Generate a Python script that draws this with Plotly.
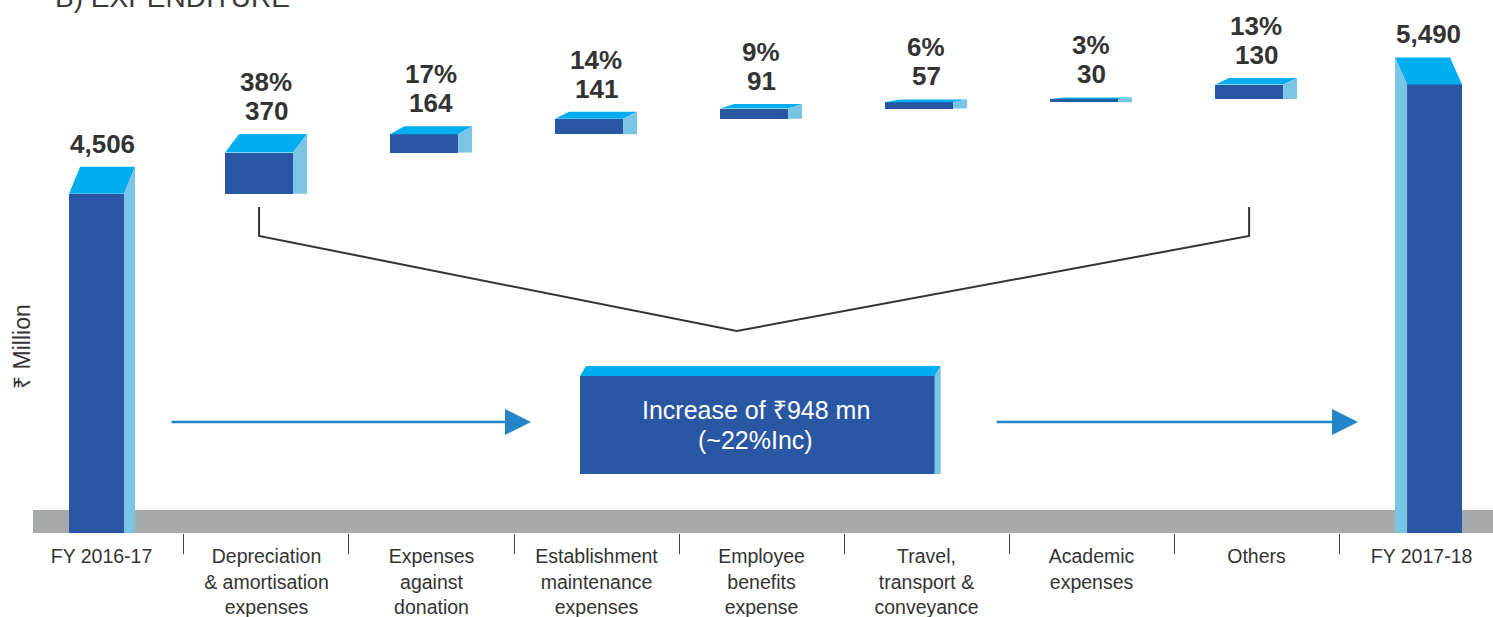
import plotly.graph_objects as go

# ---------------- data ----------------
categories = ["FY 2016-17",
              "Depreciation<br>& amortisation<br>expenses",
              "Expenses<br>against<br>donation",
              "Establishment<br>maintenance<br>expenses",
              "Employee<br>benefits<br>expense",
              "Travel,<br>transport &<br>conveyance",
              "Academic<br>expenses",
              "Others",
              "FY 2017-18"]
opening_value = 4506
closing_value = 5490
increments = [370, 164, 141, 91, 57, 30, 130]
shares_pct = [38, 17, 14, 9, 6, 3, 13]
increase_lines = ["Increase of \u20b9948 mn", "(~22%Inc)"]
y_title = "\u20b9 Million"
chart_title = "B) EXPENDITURE"

# ---------------- style ----------------
FRONT = "#2A57A3"
TOP = "#00AEEF"
SIDE = "#7AC4E5"
BAND = "#A7A9AC"
TXT = "#333333"
ARROW = "#2384C8"
FONT = "Liberation Sans, Arial, Noto Sans, sans-serif"

Y_MIN, Y_MAX = 1450, 6250
X_MIN, X_MAX = -0.415, 8.433
PLOT_H = 533

n = len(categories)
xs = list(range(n))

# cumulative bases
bases = [0]
heights = [opening_value]
run = opening_value
for v in increments:
    bases.append(run)
    heights.append(v)
    run += v
bases.append(0)
heights.append(closing_value)

# geometry per bar (style only)
BIG_W, INC_W = 0.333, 0.412
centers, widths, dxs, dys = [], [], [], []
for i in xs:
    if i == 0:
        centers.append(i - 0.03); widths.append(BIG_W); dxs.append(0.067); dys.append(243)
    elif i == n - 1:
        centers.append(i + 0.079); widths.append(BIG_W); dxs.append(-0.073); dys.append(243)
    else:
        centers.append(i - 0.045); widths.append(INC_W); dxs.append(0.085); dys.append(0.45 * heights[i])

offsets = [c - i - w / 2 for c, i, w in zip(centers, xs, widths)]

fig = go.Figure()
fig.add_trace(go.Bar(x=xs, y=heights, base=bases, width=widths, offset=offsets,
                     marker=dict(color=FRONT, line=dict(width=0)),
                     hoverinfo="skip", showlegend=False))

shapes = []
# grey floor band
shapes.append(dict(type="rect", xref="paper", yref="paper", x0=0, x1=1, y0=0, y1=23 / PLOT_H,
                   fillcolor=BAND, line=dict(width=0), layer="below"))

annotations = []
for i in xs:
    c, w, dx, dy = centers[i], widths[i], dxs[i], dys[i]
    x0, x1 = c - w / 2, c + w / 2
    t = bases[i] + heights[i]
    b = Y_MIN if i in (0, n - 1) else bases[i]
    # top face
    shapes.append(dict(type="path", xref="x", yref="y",
                       path=f"M {x0},{t} L {x0+dx},{t+dy} L {x1+dx},{t+dy} L {x1},{t} Z",
                       fillcolor=TOP, line=dict(width=0)))
    # side face
    if dx > 0:
        p = f"M {x1},{t} L {x1+dx},{t+dy} L {x1+dx},{b} L {x1},{b} Z"
    else:
        p = f"M {x0},{t} L {x0+dx},{t+dy} L {x0+dx},{b} L {x0},{b} Z"
    shapes.append(dict(type="path", xref="x", yref="y", path=p, fillcolor=SIDE, line=dict(width=0)))
    # labels
    lx = c + dx / 2
    annotations.append(dict(x=lx, y=t + dy, xref="x", yref="y", text=f"{heights[i]:,}",
                            showarrow=False, yanchor="bottom", yshift=6,
                            font=dict(family=FONT, size=26, color=TXT, weight="bold")))
    if 0 < i < n - 1:
        annotations.append(dict(x=lx, y=t + dy, xref="x", yref="y", text=f"{shares_pct[i-1]}%",
                                showarrow=False, yanchor="bottom", yshift=35,
                                font=dict(family=FONT, size=26, color=TXT, weight="bold")))


def py(p):
    return (PLOT_H - p) / PLOT_H


# increase box (pseudo-3D)
bx0, bx1 = 2.9, 5.05
by0, by1 = py(474), py(376)
bdx, bdy = 0.036, 10 / PLOT_H
shapes.append(dict(type="rect", xref="x", yref="paper", x0=bx0, x1=bx1, y0=by0, y1=by1,
                   fillcolor=FRONT, line=dict(width=0)))
shapes.append(dict(type="path", xref="x", yref="paper",
                   path=f"M {bx0},{by1} L {bx0+bdx},{by1+bdy} L {bx1+bdx},{by1+bdy} L {bx1},{by1} Z",
                   fillcolor=TOP, line=dict(width=0)))
shapes.append(dict(type="path", xref="x", yref="paper",
                   path=f"M {bx1},{by1} L {bx1+bdx},{by1+bdy} L {bx1+bdx},{by0} L {bx1},{by0} Z",
                   fillcolor=SIDE, line=dict(width=0)))
for line_text, ypix in zip(increase_lines, [410, 440]):
    annotations.append(dict(x=(bx0 + bx1) / 2 - 0.01, y=py(ypix), xref="x", yref="paper",
                            text=line_text, showarrow=False, yanchor="middle",
                            font=dict(family=FONT, size=25, color="white")))

# bracket
bl, br, bm = centers[1], centers[n - 2], 3.85
shapes.append(dict(type="path", xref="x", yref="paper",
                   path=f"M {bl},{py(207)} L {bl},{py(236)} L {bm},{py(331)} L {br},{py(236)} L {br},{py(207)}",
                   line=dict(color="#333333", width=2)))

# arrows
for head, length in [((531 - 101.5) / 165, 361), ((1358 - 101.5) / 165, 363)]:
    annotations.append(dict(x=head, y=py(422), xref="x", yref="paper", ax=-length, ay=0,
                            axref="pixel", ayref="pixel", showarrow=True, text="",
                            arrowhead=2, arrowsize=2.0, arrowwidth=2.6, arrowcolor=ARROW))

# y title
annotations.append(dict(x=(22 - 33) / 1460, y=py(347), xref="paper", yref="paper", text=y_title,
                        textangle=-90, showarrow=False, xanchor="center", yanchor="middle",
                        font=dict(family=FONT, size=23, color=TXT)))
# cut title (reference shows it clipped at the top edge)
annotations.append(dict(x=(53 - 33) / 1460, y=1, xref="paper", yref="paper", text=chart_title,
                        showarrow=False, xanchor="left", yanchor="bottom", yshift=-15,
                        font=dict(family=FONT, size=28, color="#3a3a3a")))

fig.update_layout(
    width=1493, height=617,
    margin=dict(l=33, r=0, t=0, b=84, autoexpand=False),
    paper_bgcolor="white", plot_bgcolor="white",
    showlegend=False,
    shapes=shapes, annotations=annotations,
    xaxis=dict(range=[X_MIN, X_MAX], tickmode="array", tickvals=xs, ticktext=categories,
               showgrid=False, zeroline=False, showline=False, automargin=False,
               ticks="outside", ticklen=6, tickcolor="rgba(0,0,0,0)",
               tickfont=dict(family=FONT, size=19.5, color=TXT),
               minor=dict(tickmode="array", tickvals=[i + 0.5 for i in xs[:-1]], ticks="outside",
                          ticklen=20, tickcolor="#444444", tickwidth=1, showgrid=False),
               fixedrange=True),
    yaxis=dict(range=[Y_MIN, Y_MAX], visible=False, fixedrange=True, automargin=False),
    bargap=0,
)

fig.write_html("out.html", config={"displayModeBar": False},
               post_script="document.body.style.margin='0';")
